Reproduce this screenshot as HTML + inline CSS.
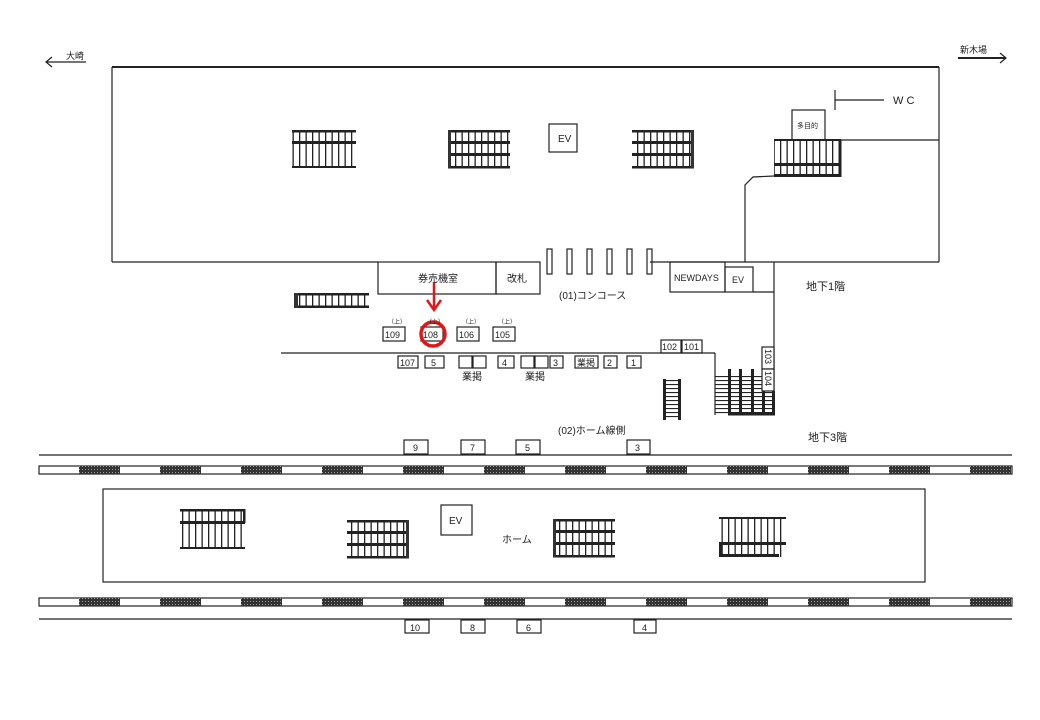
<!DOCTYPE html>
<html><head><meta charset="utf-8"><style>
html,body{margin:0;padding:0;background:#fff}
svg{display:block}
text{font-family:"Liberation Sans","Noto Sans CJK JP",sans-serif;fill:#222}
</style></head><body>
<svg width="1040" height="720" viewBox="0 0 1040 720" xmlns="http://www.w3.org/2000/svg">
<defs>
<pattern id="vl" width="6.5" height="10" patternUnits="userSpaceOnUse"><rect x="0" y="0" width="1.3" height="10" fill="#222"/></pattern>
<pattern id="hl" width="10" height="4" patternUnits="userSpaceOnUse"><rect x="0" y="0" width="10" height="1.1" fill="#222"/></pattern>
<pattern id="dots" width="3" height="3" patternUnits="userSpaceOnUse"><rect width="3" height="3" fill="#333"/><rect x="1" y="1" width="1" height="1" fill="#999"/></pattern>
</defs>
<g fill="none" stroke="#222" stroke-width="1.2">
<line x1="46" y1="62" x2="86" y2="62"/><polyline points="52,57 46,62 52,67"/>
<line x1="958" y1="58" x2="1006" y2="58" stroke-width="2"/><polyline points="1000,53 1006,58 1000,63"/>
<line x1="112" y1="67" x2="939" y2="67" stroke-width="2"/>
<line x1="112" y1="67" x2="112" y2="262"/>
<line x1="939" y1="67" x2="939" y2="262"/>
<line x1="112" y1="262" x2="378" y2="262"/>
<rect x="378" y="262" width="118" height="32"/>
<rect x="496" y="262" width="44" height="32"/>
<line x1="650" y1="262" x2="939" y2="262"/>
<line x1="841" y1="140" x2="939" y2="140"/>
<polyline points="774,176 753,177 745,185 745,262"/>
<rect x="670" y="262" width="55" height="30"/>
<rect x="725" y="267" width="28" height="25"/>
<line x1="753" y1="292" x2="774" y2="292"/>
<line x1="774" y1="262" x2="774" y2="415"/>
<rect x="792" y="110" width="33" height="30"/>
<line x1="835" y1="90" x2="835" y2="110"/><line x1="835" y1="100" x2="884" y2="100"/>
<rect x="549" y="124" width="28" height="28"/>
<rect x="547" y="249" width="5" height="25"/><rect x="567" y="249" width="5" height="25"/><rect x="587" y="249" width="5" height="25"/><rect x="607" y="249" width="5" height="25"/><rect x="627" y="249" width="5" height="25"/><rect x="647" y="249" width="5" height="25"/>
<line x1="281" y1="353" x2="715" y2="353"/>
<line x1="715" y1="353" x2="715" y2="415"/>
<rect x="661" y="340" width="20" height="13"/><rect x="682" y="340" width="20" height="13"/>
<rect x="383" y="327" width="22" height="14"/><rect x="421" y="327" width="22" height="14"/><rect x="457" y="327" width="22" height="14"/><rect x="493" y="327" width="22" height="14"/>
<rect x="398" y="356" width="20" height="12"/><rect x="425" y="356" width="19" height="12"/>
<rect x="459" y="356" width="13" height="12"/><rect x="473" y="356" width="13" height="12"/>
<rect x="498" y="356" width="16" height="12"/>
<rect x="521" y="356" width="13" height="12"/><rect x="535" y="356" width="13" height="12"/>
<rect x="550" y="356" width="13" height="12"/><rect x="575" y="356" width="23" height="12"/>
<rect x="604" y="356" width="13" height="12"/><rect x="627" y="356" width="14" height="12"/>
<line x1="39" y1="455" x2="1012" y2="455"/>
<rect x="39" y="466" width="973" height="8"/>
<rect x="103" y="489" width="822" height="93"/>
<rect x="39" y="598" width="973" height="8"/>
<line x1="39" y1="619" x2="1012" y2="619"/>
<rect x="404" y="440" width="24" height="14"/><rect x="461" y="440" width="24" height="14"/><rect x="516" y="440" width="24" height="14"/><rect x="627" y="440" width="23" height="14"/>
<rect x="405" y="620" width="24" height="13"/><rect x="461" y="620" width="24" height="13"/><rect x="517" y="620" width="24" height="13"/><rect x="634" y="620" width="22" height="13"/>
<rect x="441" y="505" width="31" height="30"/>
</g>
<g fill="url(#dots)">
<rect x="79" y="466" width="41" height="8"/><rect x="160" y="466" width="41" height="8"/><rect x="241" y="466" width="41" height="8"/><rect x="322" y="466" width="41" height="8"/><rect x="403" y="466" width="41" height="8"/><rect x="484" y="466" width="41" height="8"/><rect x="565" y="466" width="41" height="8"/><rect x="646" y="466" width="41" height="8"/><rect x="727" y="466" width="41" height="8"/><rect x="808" y="466" width="41" height="8"/><rect x="889" y="466" width="41" height="8"/><rect x="970" y="466" width="41" height="8"/>
<rect x="79" y="598" width="41" height="8"/><rect x="160" y="598" width="41" height="8"/><rect x="241" y="598" width="41" height="8"/><rect x="322" y="598" width="41" height="8"/><rect x="403" y="598" width="41" height="8"/><rect x="484" y="598" width="41" height="8"/><rect x="565" y="598" width="41" height="8"/><rect x="646" y="598" width="41" height="8"/><rect x="727" y="598" width="41" height="8"/><rect x="808" y="598" width="41" height="8"/><rect x="889" y="598" width="41" height="8"/><rect x="970" y="598" width="41" height="8"/>
</g>
<g>
<rect x="292" y="130" width="64" height="38" fill="url(#vl)"/>
<rect x="292" y="130" width="64" height="2.5" fill="#222"/><rect x="292" y="141" width="64" height="3" fill="#222"/><rect x="292" y="166" width="64" height="2" fill="#222"/>
<rect x="774" y="140" width="67" height="37" fill="url(#vl)"/>
<rect x="774" y="139" width="67" height="2" fill="#222"/><rect x="774" y="163" width="67" height="3" fill="#222"/><rect x="774" y="174" width="67" height="3" fill="#222"/><rect x="839" y="140" width="2.5" height="37" fill="#222"/>
<rect x="180" y="509" width="65" height="40" fill="url(#vl)"/>
<rect x="180" y="509" width="65" height="2.5" fill="#222"/><rect x="180" y="521" width="65" height="3" fill="#222"/><rect x="180" y="547" width="65" height="2" fill="#222"/><rect x="243" y="509" width="2.5" height="14" fill="#222"/>
<rect x="719" y="518" width="67" height="39" fill="url(#vl)"/>
<rect x="719" y="517" width="67" height="2" fill="#222"/><rect x="719" y="542" width="67" height="3" fill="#222"/><rect x="719" y="554" width="60" height="3" fill="#222"/><rect x="719" y="542" width="3" height="15" fill="#222"/>
</g>
<g>
<rect x="448" y="130" width="62" height="38" fill="url(#vl)"/>
<rect x="448" y="130" width="62" height="2.5" fill="#222"/><rect x="448" y="141" width="62" height="3" fill="#222"/><rect x="448" y="153" width="62" height="3" fill="#222"/><rect x="448" y="166" width="62" height="2.5" fill="#222"/><rect x="448" y="130" width="3" height="38" fill="#333"/>
<rect x="632" y="130" width="62" height="38" fill="url(#vl)"/>
<rect x="632" y="130" width="62" height="2.5" fill="#222"/><rect x="632" y="141" width="62" height="3" fill="#222"/><rect x="632" y="153" width="62" height="3" fill="#222"/><rect x="632" y="166" width="62" height="2.5" fill="#222"/><rect x="691" y="130" width="3" height="38" fill="#333"/>
<rect x="347" y="520" width="62" height="38" fill="url(#vl)"/>
<rect x="347" y="520" width="62" height="2.5" fill="#222"/><rect x="347" y="531" width="62" height="3" fill="#222"/><rect x="347" y="543" width="62" height="3" fill="#222"/><rect x="347" y="556" width="62" height="2.5" fill="#222"/><rect x="406" y="520" width="3" height="38" fill="#333"/>
<rect x="553" y="519" width="62" height="38" fill="url(#vl)"/>
<rect x="553" y="519" width="62" height="2.5" fill="#222"/><rect x="553" y="530" width="62" height="3" fill="#222"/><rect x="553" y="542" width="62" height="3" fill="#222"/><rect x="553" y="555" width="62" height="2.5" fill="#222"/><rect x="553" y="519" width="3" height="38" fill="#333"/>
<rect x="294" y="293" width="75" height="15" fill="url(#vl)"/>
<rect x="294" y="293" width="75" height="2.5" fill="#222"/><rect x="294" y="305.5" width="75" height="2.5" fill="#222"/><rect x="294" y="293" width="4" height="15" fill="#333"/>
<rect x="663" y="379" width="18" height="41" fill="url(#hl)"/>
<rect x="663" y="379" width="3" height="41" fill="#222"/><rect x="678" y="379" width="3" height="41" fill="#222"/>
<rect x="715" y="375" width="59" height="40" fill="url(#hl)"/>
<rect x="728" y="369" width="3" height="46" fill="#222"/><rect x="739" y="369" width="3" height="46" fill="#222"/><rect x="751" y="369" width="3" height="46" fill="#222"/><rect x="762" y="391" width="3" height="24" fill="#222"/><rect x="772" y="391" width="3" height="24" fill="#222"/><rect x="728" y="413" width="47" height="2.5" fill="#222"/>
</g>
<g fill="#fff" stroke="#222" stroke-width="1.2">
<rect x="762" y="347" width="12" height="22"/><rect x="762" y="369" width="12" height="22"/>
</g>
<g stroke="#e0161b" fill="none">
<circle cx="433" cy="334" r="12" stroke-width="3.5"/>
<line x1="434" y1="282" x2="434" y2="309" stroke-width="2.5"/>
<polyline points="427,300 434,310 441,300" stroke-width="2.5"/>
</g>
<g font-size="9">
<text x="66" y="59">大崎</text>
<text x="960" y="53">新木場</text>
<text x="558" y="142" font-size="10">EV</text>
<text x="797" y="128" font-size="7">多目的</text>
<text x="893" y="104" font-size="11">W C</text>
<text x="418" y="282" font-size="10">券売機室</text>
<text x="507" y="282" font-size="10">改札</text>
<text x="674" y="281" font-size="9">NEWDAYS</text>
<text x="732" y="283" font-size="9">EV</text>
<text x="806" y="290" font-size="11">地下1階</text>
<text x="559" y="299" font-size="10">(01)コンコース</text>
<g font-size="6"><text x="388" y="324">（上）</text><text x="426" y="324">（上）</text><text x="462" y="324">（上）</text><text x="498" y="324">（上）</text></g>
<text x="385" y="338">109</text><text x="423" y="338">108</text><text x="459" y="338">106</text><text x="495" y="338">105</text>
<text x="400" y="366">107</text><text x="431" y="366">5</text><text x="502" y="366">4</text><text x="553" y="366">3</text><text x="577" y="366">業掲</text><text x="607" y="366">2</text><text x="631" y="366">1</text>
<text x="462" y="380" font-size="10">業掲</text><text x="525" y="380" font-size="10">業掲</text>
<text x="662" y="350">102</text><text x="684" y="350">101</text>
<text transform="translate(765,349) rotate(90)" font-size="9">103</text>
<text transform="translate(765,371) rotate(90)" font-size="9">104</text>
<text x="558" y="434" font-size="10">(02)ホーム線側</text>
<text x="808" y="441" font-size="11">地下3階</text>
<text x="413" y="451">9</text><text x="470" y="451">7</text><text x="525" y="451">5</text><text x="635" y="451">3</text>
<text x="449" y="524" font-size="10">EV</text>
<text x="502" y="543" font-size="10">ホーム</text>
<text x="410" y="631">10</text><text x="470" y="631">8</text><text x="526" y="631">6</text><text x="642" y="631">4</text>
</g>
</svg>
</body></html>
